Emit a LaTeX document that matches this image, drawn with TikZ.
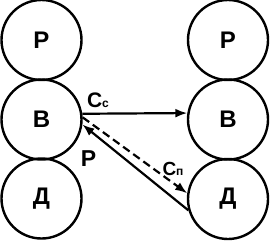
\documentclass[tikz,border=0pt]{standalone}
\usepackage{fontspec}
\setmainfont{Liberation Sans}
\usetikzlibrary{arrows.meta}
\begin{document}
\begin{tikzpicture}[x=1pt,y=-1pt,
  circ/.style={circle,draw,line width=2.4pt,minimum size=80pt,inner sep=0pt,font=\fontsize{24}{24}\selectfont\bfseries},
  lbl/.style={inner sep=0pt,font=\fontsize{21}{21}\selectfont\bfseries},
  arr/.style={line width=2.2pt,-{Latex[length=12pt,width=9pt]}},
  dsh/.style={arr,dash pattern=on 8pt off 4.5pt}]
\useasboundingbox (0,0) rectangle (270,241);
\node[circ] (lr) at (41.5,40) {Р};
\node[circ] (lb) at (41.5,119.5) {В};
\node[circ] (ld) at (41.5,198.5) {Д};
\node[circ] (rr) at (228,40) {Р};
\node[circ] (rb) at (228,119.5) {В};
\node[circ] (rd) at (228,199) {Д};
\draw[arr] (lb.8.5) -- (rb.171.5);
\draw[dsh] (lb.3) -- (rd.172);
\draw[arr] (rd.196) -- (lb.-7);
\node[lbl] (cc) at (98,100.5) {С\fontsize{12}{12}\selectfont с};
\node[lbl,font=\fontsize{23}{23}\selectfont\bfseries] (p) at (88.5,158.5) {Р};
\node[lbl,font=\fontsize{19}{19}\selectfont\bfseries] (cp) at (173,168.5) {С\fontsize{12}{12}\selectfont п};
\end{tikzpicture}
\end{document}
